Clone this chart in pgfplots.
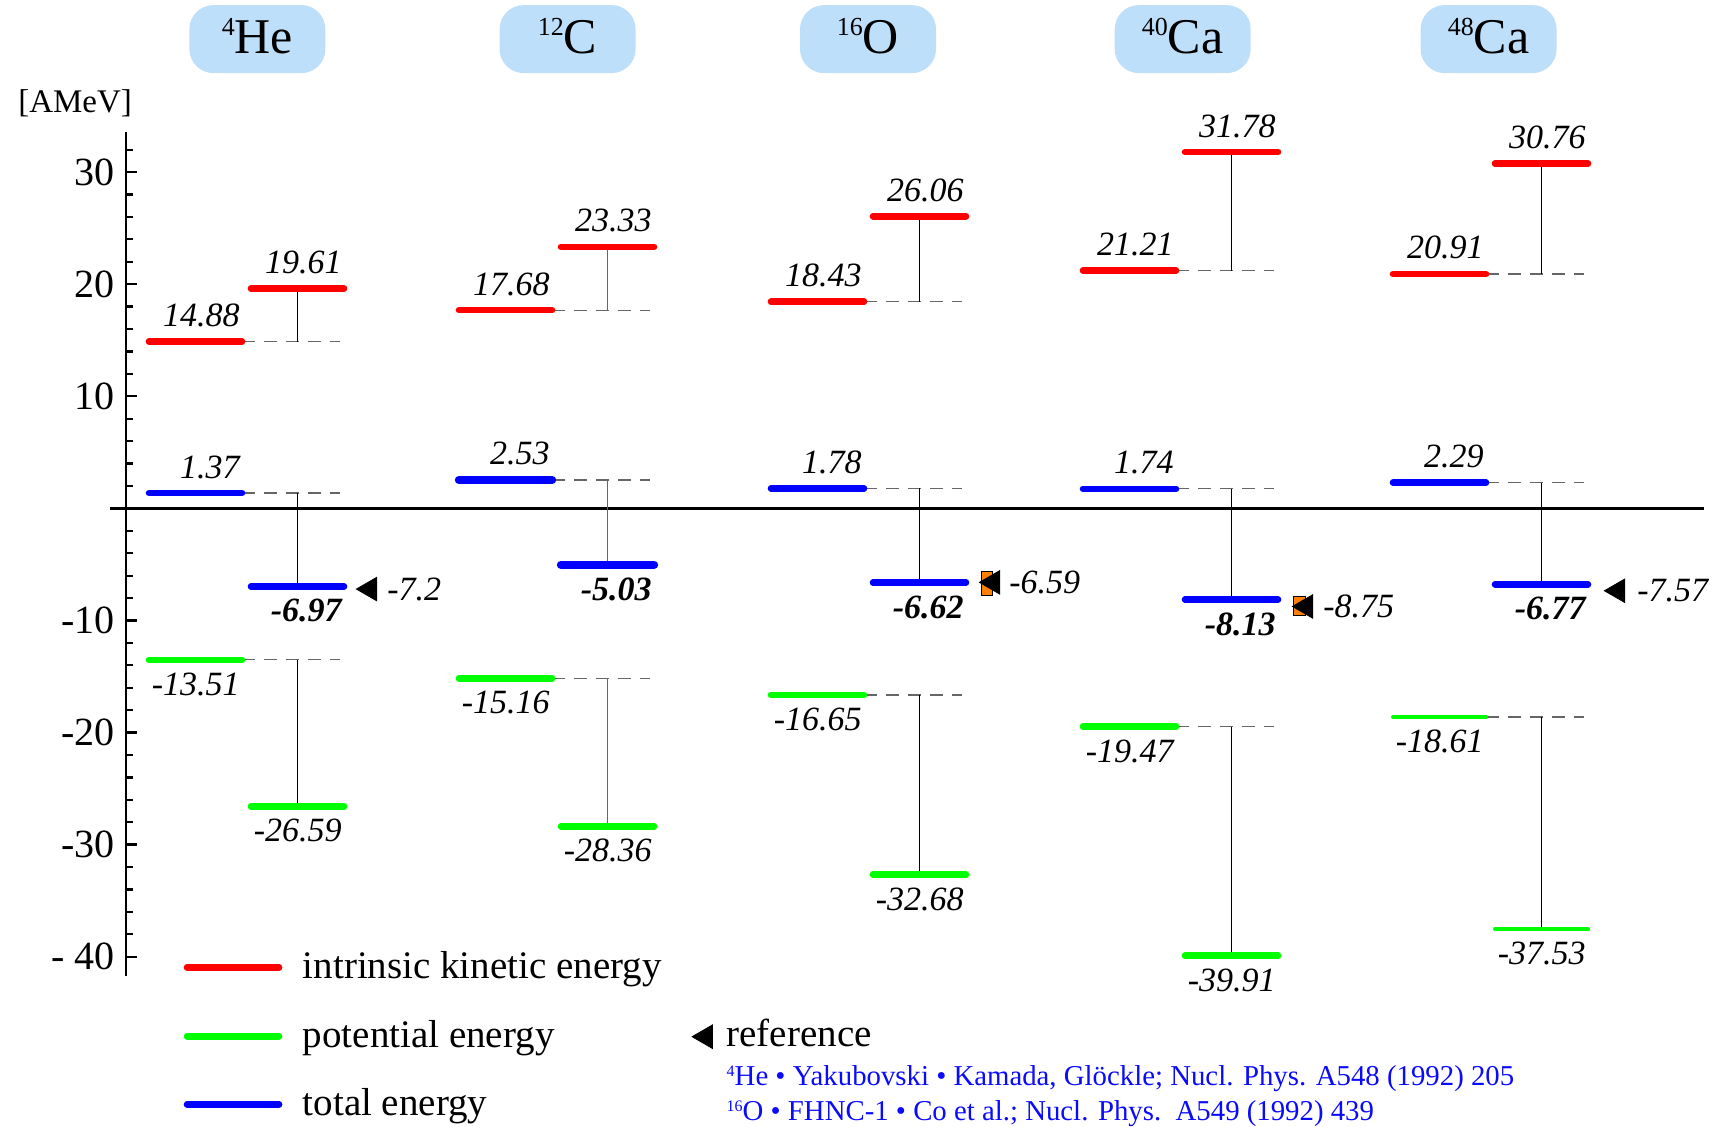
\documentclass[border=0pt]{standalone}
\usepackage{pgfplots}
\pgfplotsset{compat=1.18}
\usepackage{fontspec}
\setmainfont{Liberation Serif}

\definecolor{cR}{RGB}{255,0,0}
\definecolor{cG}{RGB}{0,255,0}
\definecolor{cB}{RGB}{0,0,255}
\definecolor{hdr}{RGB}{190,223,250}
\definecolor{orng}{RGB}{255,128,0}
\definecolor{refblue}{RGB}{10,10,255}

\newcommand{\valfont}{\fontsize{17}{20}\selectfont\itshape}
\newcommand{\hdrfont}{\fontsize{25}{29}\selectfont}
\newcommand{\legfont}{\fontsize{19.5}{23}\selectfont}
\newcommand{\isot}[1]{\raisebox{9pt}{\fontsize{13}{14}\selectfont #1}}
\newcommand{\isos}[1]{\raisebox{4.6pt}{\fontsize{8}{9}\selectfont #1}}

% level bar: color, x1, x2, y, width
\newcommand{\lvl}[5]{\addplot[#1, line width=#5, line cap=round, forget plot] coordinates {(#2,#4) (#3,#4)};}
% dashed guide: x1, x2, y
\newcommand{\dsh}[3]{\addplot[black!60, line width=0.6pt, dash pattern=on 6.5pt off 4.5pt, forget plot] coordinates {(#1,#3) (#2,#3)};}
% vertical connector: x, y1, y2, color
\newcommand{\vcn}[4]{\addplot[#4, line width=0.5pt, forget plot] coordinates {(#1,#2) (#1,#3)};}
% labels
\newcommand{\labA}[3]{\node[anchor=base east, inner sep=0pt, font=\valfont, yshift=7.5pt] at (axis cs:#1,#2) {#3};}
\newcommand{\labB}[3]{\node[anchor=base east, inner sep=0pt, font=\valfont, yshift=-17.75pt] at (axis cs:#1,#2) {#3};}

\begin{document}
\begin{tikzpicture}
\begin{axis}[
  scale only axis, width=789pt, height=422.06pt,
  xmin=126, xmax=1704, ymin=-41.7, ymax=33.6,
  axis x line=none, axis y line*=left,
  clip=false,
  y axis line style={line width=1.2pt},
  ytick={-40,-30,-20,-10,0,10,20,30},
  yticklabels={- 40,-30,-20,-10,,10,20,30},
  minor ytick={-40,-38,...,32},
  tick align=inside,
  major tick length=5.5pt, minor tick length=3.3pt,
  major tick style={line width=1.2pt, black},
  minor tick style={line width=1.1pt, black},
  yticklabel style={font=\fontsize{20}{24}\selectfont, inner sep=0pt, xshift=-5.5pt},
]
% bounding box of the whole picture
\path (axis cs:0,45.35) rectangle (axis cs:1718,-55.0);

% zero line
\draw[line width=1.3pt] (axis cs:110,0) -- (axis cs:1704,0);

% headers
\node[fill=hdr, rounded corners=12pt, minimum width=68pt, minimum height=34pt, inner sep=0pt] at (axis cs:257.4,41.86) {};
\node[fill=hdr, rounded corners=12pt, minimum width=68pt, minimum height=34pt, inner sep=0pt] at (axis cs:567.6,41.86) {};
\node[fill=hdr, rounded corners=12pt, minimum width=68pt, minimum height=34pt, inner sep=0pt] at (axis cs:868,41.86) {};
\node[fill=hdr, rounded corners=12pt, minimum width=68pt, minimum height=34pt, inner sep=0pt] at (axis cs:1182.7,41.86) {};
\node[fill=hdr, rounded corners=12pt, minimum width=68pt, minimum height=34pt, inner sep=0pt] at (axis cs:1488.6,41.86) {};
\node[anchor=base, inner sep=0pt, font=\hdrfont] at (axis cs:257.4,40.55) {\isot{4}He};
\node[anchor=base, inner sep=0pt, font=\hdrfont] at (axis cs:567.6,40.55) {\isot{12}C};
\node[anchor=base, inner sep=0pt, font=\hdrfont] at (axis cs:868,40.55) {\isot{16}O};
\node[anchor=base, inner sep=0pt, font=\hdrfont] at (axis cs:1182.7,40.55) {\isot{40}Ca};
\node[anchor=base, inner sep=0pt, font=\hdrfont] at (axis cs:1488.6,40.55) {\isot{48}Ca};

% unit
\node[anchor=west, inner sep=0pt, font=\fontsize{16.5}{20}\selectfont] at (axis cs:17.9,36.16) {[AMeV]};

% ---------- 4He ----------
\dsh{242}{340}{14.88}\dsh{242}{340}{1.37}\dsh{242}{340}{-13.51}
\vcn{297}{14.88}{19.61}{black}\vcn{297}{1.37}{-6.97}{black}\vcn{297}{-13.51}{-26.59}{black}
\lvl{cR}{149}{242}{14.88}{3.3pt}\lvl{cR}{251}{344}{19.61}{3.3pt}
\lvl{cB}{149}{242}{1.37}{3.3pt}\lvl{cB}{251}{344}{-6.97}{3.3pt}
\lvl{cG}{149}{242}{-13.51}{3.3pt}\lvl{cG}{251}{344}{-26.59}{3.3pt}
\labA{240}{14.88}{14.88}\labA{342}{19.61}{19.61}
\labA{240}{1.37}{1.37}\labB{342}{-6.97}{\bfseries -6.97}
\labB{240}{-13.51}{-13.51}\labB{342}{-26.59}{-26.59}

% ---------- 12C ----------
\dsh{552}{650}{17.68}\dsh{552}{650}{2.53}\dsh{552}{650}{-15.16}
\vcn{607}{17.68}{23.33}{black!60}\vcn{607}{2.53}{-5.03}{black!60}\vcn{607}{-15.16}{-28.36}{black!60}
\lvl{cR}{459}{552}{17.68}{3.3pt}\lvl{cR}{561}{654}{23.33}{3.3pt}
\lvl{cB}{459}{552}{2.53}{4.2pt}\lvl{cB}{561}{654}{-5.03}{4.2pt}
\lvl{cG}{459}{552}{-15.16}{3.3pt}\lvl{cG}{561}{654}{-28.36}{3.3pt}
\labA{550}{17.68}{17.68}\labA{652}{23.33}{23.33}
\labA{550}{2.53}{2.53}\labB{652}{-5.03}{\bfseries -5.03}
\labB{550}{-15.16}{-15.16}\labB{652}{-28.36}{-28.36}

% ---------- 16O ----------
\dsh{864}{962}{18.43}\dsh{864}{962}{1.78}\dsh{864}{962}{-16.65}
\vcn{919}{18.43}{26.06}{black}\vcn{919}{1.78}{-6.62}{black}\vcn{919}{-16.65}{-32.68}{black}
\lvl{cR}{771}{864}{18.43}{3.3pt}\lvl{cR}{873}{966}{26.06}{3.3pt}
\lvl{cB}{771}{864}{1.78}{3.3pt}\lvl{cB}{873}{966}{-6.62}{3.3pt}
\lvl{cG}{771}{864}{-16.65}{3.3pt}\lvl{cG}{873}{966}{-32.68}{3.3pt}
\labA{862}{18.43}{18.43}\labA{964}{26.06}{26.06}
\labA{862}{1.78}{1.78}\labB{964}{-6.62}{\bfseries -6.62}
\labB{862}{-16.65}{-16.65}\labB{964}{-32.68}{-32.68}

% ---------- 40Ca ----------
\dsh{1176}{1274}{21.21}\dsh{1176}{1274}{1.74}\dsh{1176}{1274}{-19.47}
\vcn{1231}{21.21}{31.78}{black}\vcn{1231}{1.74}{-8.13}{black}\vcn{1231}{-19.47}{-39.91}{black}
\lvl{cR}{1083}{1176}{21.21}{3.3pt}\lvl{cR}{1185}{1278}{31.78}{3.3pt}
\lvl{cB}{1083}{1176}{1.74}{3.3pt}\lvl{cB}{1185}{1278}{-8.13}{3.3pt}
\lvl{cG}{1083}{1176}{-19.47}{3.3pt}\lvl{cG}{1185}{1278}{-39.91}{3.3pt}
\labA{1174}{21.21}{21.21}\labA{1276}{31.78}{31.78}
\labA{1174}{1.74}{1.74}\labB{1276}{-8.13}{\bfseries -8.13}
\labB{1174}{-19.47}{-19.47}\labB{1276}{-39.91}{-39.91}

% ---------- 48Ca ----------
\dsh{1486}{1584}{20.91}\dsh{1486}{1584}{2.29}\dsh{1486}{1584}{-18.61}
\vcn{1541}{20.91}{30.76}{black}\vcn{1541}{2.29}{-6.77}{black}\vcn{1541}{-18.61}{-37.53}{black}
\lvl{cR}{1393}{1486}{20.91}{3.3pt}\lvl{cR}{1495}{1588}{30.76}{3.3pt}
\lvl{cB}{1393}{1486}{2.29}{3.3pt}\lvl{cB}{1495}{1588}{-6.77}{3.3pt}
\lvl{cG}{1393}{1486}{-18.61}{2pt}\lvl{cG}{1495}{1588}{-37.53}{2pt}
\labA{1484}{20.91}{20.91}\labA{1586}{30.76}{30.76}
\labA{1484}{2.29}{2.29}\labB{1586}{-6.77}{\bfseries -6.77}
\labB{1484}{-18.61}{-18.61}\labB{1586}{-37.53}{-37.53}

% ---------- reference values ----------
\addplot[only marks, mark=square*, mark size=6pt, mark options={xscale=0.48, fill=orng, draw=none}, forget plot] coordinates {(987,-6.65)};
\addplot[only marks, mark=square*, mark size=4.8pt, mark options={xscale=0.62, fill=orng, draw=none}, forget plot] coordinates {(1299,-8.67)};
\addplot[only marks, mark=triangle*, mark size=6.8pt, mark options={rotate=90, fill=black, draw=black}, forget plot]
  coordinates {(370,-7.2) (993,-6.6) (1306,-8.75) (1618,-7.35) (705.7,-47.13)};
\node[anchor=west, inner sep=0pt, font=\valfont] at (axis cs:387,-7.2) {-7.2};
\node[anchor=west, inner sep=0pt, font=\valfont] at (axis cs:1009,-6.6) {-6.59};
\node[anchor=west, inner sep=0pt, font=\valfont] at (axis cs:1323,-8.75) {-8.75};
\node[anchor=west, inner sep=0pt, font=\valfont] at (axis cs:1637,-7.35) {-7.57};

% ---------- legend ----------
\addplot[cR, line width=3.5pt, line cap=round, forget plot] coordinates {(187.2,-40.94) (278.9,-40.94)};
\addplot[cG, line width=3.5pt, line cap=round, forget plot] coordinates {(187.2,-47.07) (278.9,-47.07)};
\addplot[cB, line width=3.5pt, line cap=round, forget plot] coordinates {(187.2,-53.16) (278.9,-53.16)};
\node[anchor=base west, inner sep=0pt, font=\legfont] at (axis cs:302.5,-41.92) {intrinsic kinetic energy};
\node[anchor=base west, inner sep=0pt, font=\legfont] at (axis cs:302.5,-48.11) {potential energy};
\node[anchor=base west, inner sep=0pt, font=\legfont] at (axis cs:302.5,-54.17) {total energy};
\node[anchor=base west, inner sep=0pt, font=\legfont] at (axis cs:726.2,-48.02) {reference};
\node[anchor=base west, inner sep=0pt, font=\fontsize{14.4}{16}\selectfont, text=refblue] at (axis cs:726.3,-51.5)
  {\isos{4}He • Yakubovski • Kamada, Glöckle; Nucl. Phys. A548 (1992) 205};
\node[anchor=base west, inner sep=0pt, font=\fontsize{14.4}{16}\selectfont, text=refblue] at (axis cs:726.3,-54.6)
  {\isos{16}O • FHNC-1 • Co et al.; Nucl. Phys.\ \ A549 (1992) 439};
\end{axis}
\end{tikzpicture}
\end{document}
